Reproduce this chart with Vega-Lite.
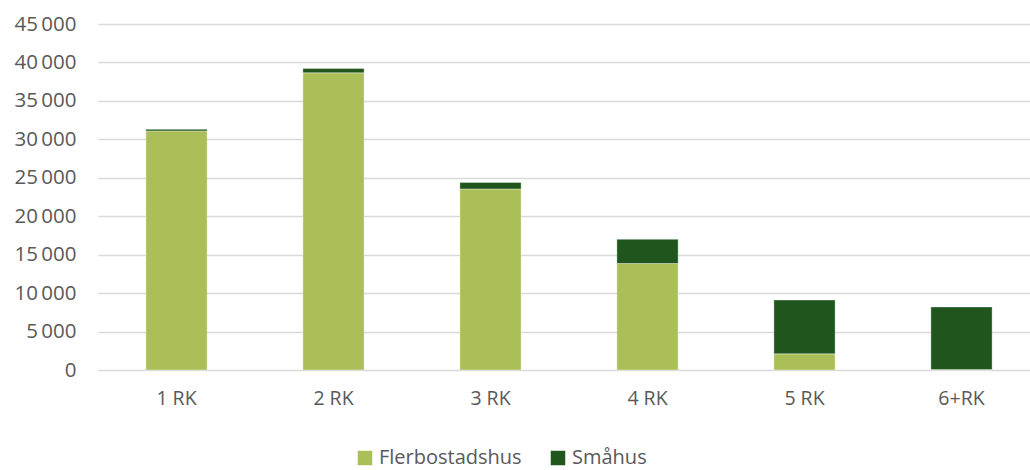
{
  "$schema": "https://vega.github.io/schema/vega-lite/v6.json",
  "autosize": "none",
  "width": 942,
  "height": 346,
  "padding": {"left": 98, "top": 24, "right": 0, "bottom": 100},
  "background": "#ffffff",
  "config": {
    "font": "Open Sans",
    "view": {"stroke": null}
  },
  "data": {
    "values": [
      {"rum": "1 RK", "typ": "Flerbostadshus", "antal": 31100},
      {"rum": "1 RK", "typ": "Småhus", "antal": 200},
      {"rum": "2 RK", "typ": "Flerbostadshus", "antal": 38650},
      {"rum": "2 RK", "typ": "Småhus", "antal": 550},
      {"rum": "3 RK", "typ": "Flerbostadshus", "antal": 23550},
      {"rum": "3 RK", "typ": "Småhus", "antal": 850},
      {"rum": "4 RK", "typ": "Flerbostadshus", "antal": 13850},
      {"rum": "4 RK", "typ": "Småhus", "antal": 3150},
      {"rum": "5 RK", "typ": "Flerbostadshus", "antal": 2100},
      {"rum": "5 RK", "typ": "Småhus", "antal": 7000},
      {"rum": "6+RK", "typ": "Flerbostadshus", "antal": 50},
      {"rum": "6+RK", "typ": "Småhus", "antal": 8150}
    ]
  },
  "mark": {"type": "bar", "stroke": "#ffffff", "strokeWidth": 0.6, "strokeOpacity": 0.6},
  "encoding": {
    "x": {
      "field": "rum",
      "type": "nominal",
      "sort": null,
      "scale": {"paddingInner": 0.61, "paddingOuter": 0.305},
      "axis": {
        "title": null,
        "labelAngle": 0,
        "labelFontSize": 19.5,
        "labelColor": "#595959",
        "labelPadding": 19,
        "ticks": false,
        "domain": false
      }
    },
    "y": {
      "field": "antal",
      "type": "quantitative",
      "stack": "zero",
      "scale": {"domain": [0, 45000], "nice": false},
      "axis": {
        "title": null,
        "values": [0, 5000, 10000, 15000, 20000, 25000, 30000, 35000, 40000, 45000],
        "labelExpr": "replace(format(datum.value, ','), regexp(',', 'g'), '\u2009')",
        "labelFontSize": 20.5,
        "labelColor": "#595959",
        "labelPadding": 22,
        "ticks": false,
        "domain": false,
        "grid": true,
        "gridColor": "#d9d9d9",
        "gridWidth": 1.5
      }
    },
    "color": {
      "field": "typ",
      "type": "nominal",
      "scale": {"domain": ["Flerbostadshus", "Småhus"], "range": ["#abbf58", "#20561d"]},
      "legend": {
        "title": null,
        "orient": "none",
        "legendX": 257,
        "legendY": 424,
        "direction": "horizontal",
        "symbolType": "square",
        "symbolSize": 210,
        "symbolStrokeWidth": 0,
        "labelFontSize": 20,
        "labelColor": "#595959",
        "labelOffset": 4,
        "columnPadding": 26
      }
    },
    "order": {"field": "typ", "sort": "ascending"}
  }
}
